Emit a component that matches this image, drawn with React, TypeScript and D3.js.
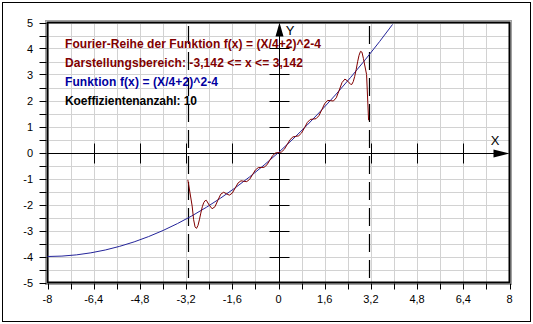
import React from "react";
import * as d3 from "d3";

const xTickValues = [-8, -6.4, -4.8, -3.2, -1.6, 0, 1.6, 3.2, 4.8, 6.4, 8];
const xTickLabels = ["-8", "-6,4", "-4,8", "-3,2", "-1,6", "0", "1,6", "3,2", "4,8", "6,4", "8"];
const yTickValues = [-5, -4, -3, -2, -1, 0, 1, 2, 3, 4, 5];
const yTickLabels = ["-5", "-4", "-3", "-2", "-1", "0", "1", "2", "3", "4", "5"];
const axisTicksX = [-6.4, -4.8, -3.2, -1.6, 1.6, 3.2, 4.8, 6.4];
const axisTicksY = [-4, -3, -2, -1, 1, 2, 3, 4];
const intervalBounds = [-3.142, 3.142];

const blueX = [-8, -7.5, -7, -6.5, -6, -5.5, -5, -4.5, -4, -3.5, -3, -2.5, -2, -1.5, -1, -0.5, 0, 0.5, 1, 1.5, 2, 2.5, 3, 3.5, 3.95];
const blueY = [-4, -3.984, -3.938, -3.859, -3.75, -3.609, -3.438, -3.234, -3, -2.734, -2.438, -2.109, -1.75, -1.359, -0.938, -0.484, 0, 0.516, 1.063, 1.641, 2.25, 2.891, 3.563, 4.266, 4.925];

const redX = [-3.14, -2.99, -2.94, -2.89, -2.84, -2.79, -2.74, -2.69, -2.64, -2.59, -2.54,
  -2.5, -2.4, -2.3, -2.2, -2.1, -2.0, -1.9, -1.8, -1.7, -1.6, -1.5, -1.4, -1.3, -1.2, -1.1, -1.0,
  -0.9, -0.8, -0.7, -0.6, -0.5, -0.4, -0.3, -0.2, -0.1, 0,
  0.1, 0.2, 0.3, 0.4, 0.5, 0.6, 0.7, 0.8, 0.9, 1.0, 1.1, 1.2, 1.3, 1.4, 1.5, 1.6, 1.7, 1.8, 1.9,
  2.0, 2.1, 2.2, 2.3, 2.4, 2.5,
  2.54, 2.59, 2.64, 2.69, 2.74, 2.79, 2.84, 2.89, 2.94, 3.05, 3.12];
const redY = [-1.05, -2.06, -2.58, -2.86, -2.92, -2.81, -2.59, -2.33, -2.09, -1.93, -1.85,
  -1.838, -2.022, -2.163, -2.086, -1.836, -1.603, -1.529, -1.59, -1.641, -1.561, -1.365, -1.172, -1.089, -1.106, -1.119, -1.033,
  -0.852, -0.672, -0.581, -0.576, -0.569, -0.475, -0.295, -0.115, -0.017, 0,
  0.018, 0.12, 0.306, 0.495, 0.6, 0.621, 0.642, 0.752, 0.953, 1.158, 1.271, 1.286, 1.3, 1.417, 1.646, 1.881, 2.002, 1.995, 1.98,
  2.103, 2.387, 2.691, 2.825, 2.742, 2.619,
  2.62, 2.73, 2.93, 3.19, 3.49, 3.74, 3.89, 3.86, 3.62, 3.0, 1.24];

const infoLines = [
  { text: "Fourier-Reihe der Funktion f(x) = (X/4+2)^2-4", color: "#800000", width: 256 },
  { text: "Darstellungsbereich: -3,142 <= x <= 3,142", color: "#800000", width: 238 },
  { text: "Funktion f(x) = (X/4+2)^2-4", color: "#0000a0", width: 153 },
  { text: "Koeffizientenanzahl: 10", color: "#000000", width: 132 },
];

export default function App() {
  const W = 533, H = 324;
  const left = 47.5, right = 509.5, top = 22.5, bottom = 282.5;
  const x = d3.scaleLinear().domain([-8, 8]).range([left, right]);
  const y = d3.scaleLinear().domain([-5, 5]).range([bottom, top]);

  const gridX = d3.range(-8, 8.0001, 0.8);
  const gridY = d3.range(-5, 5.0001, 0.5);

  const line = d3.line<[number, number]>().x(d => x(d[0])).y(d => y(d[1]));
  const bluePts: [number, number][] = blueX.map((v, i) => [v, blueY[i]]);
  const redPts: [number, number][] = redX.map((v, i) => [v, redY[i]]);

  const x0 = Math.round(x(0)) + 0.5;
  const y0 = Math.round(y(0)) + 0.5;
  const font = "'Liberation Sans', Arial, sans-serif";

  return (
    <svg width={W} height={H} style={{ position: "absolute", left: 0, top: 0, background: "#fff" }}>
      <rect x={0} y={0} width={W} height={H} fill="#fff" />
      <rect x={2.5} y={2.5} width={528} height={319} fill="none" stroke="#000" strokeWidth={1} />
      <line x1={3} y1={321.5} x2={531} y2={321.5} stroke="#000" strokeWidth={1} />
      <line x1={530.5} y1={3} x2={530.5} y2={322} stroke="#000" strokeWidth={1} />

      {gridX.map((g, i) => (
        <line key={"gx" + i} x1={Math.round(x(g)) + 0.5} x2={Math.round(x(g)) + 0.5} y1={top} y2={bottom} stroke="#d2d2d2" strokeWidth={1} />
      ))}
      {gridY.map((g, i) => (
        <line key={"gy" + i} y1={Math.round(y(g)) + 0.5} y2={Math.round(y(g)) + 0.5} x1={left} x2={right} stroke="#d2d2d2" strokeWidth={1} />
      ))}

      <rect x={left - 2} y={top - 2} width={right - left + 4} height={bottom - top + 4} fill="none" stroke="#a0a0a0" strokeWidth={1} />
      <rect x={left} y={top} width={right - left} height={bottom - top} fill="none" stroke="#000" strokeWidth={2} />

      {gridX.map((g, i) => (
        <line key={"tx" + i} x1={Math.round(x(g)) + 0.5} x2={Math.round(x(g)) + 0.5} y1={bottom + 1} y2={bottom + 7} stroke="#000" strokeWidth={1} />
      ))}
      {gridY.map((g, i) => (
        <line key={"ty" + i} y1={Math.round(y(g)) + 0.5} y2={Math.round(y(g)) + 0.5} x1={left - 8} x2={left - 1} stroke="#000" strokeWidth={1} />
      ))}
      {xTickValues.map((v, i) => (
        <text key={"xl" + i} x={x(v)} y={303} textAnchor="middle" fontFamily={font} fontSize={11} fill="#000">{xTickLabels[i]}</text>
      ))}
      {yTickValues.map((v, i) => (
        <text key={"yl" + i} x={33} y={y(v) + 4} textAnchor="end" fontFamily={font} fontSize={11} fill="#000">{yTickLabels[i]}</text>
      ))}

      <line x1={left} x2={right - 12} y1={y0} y2={y0} stroke="#000" strokeWidth={1} />
      <line x1={x0} x2={x0} y1={bottom} y2={top + 10} stroke="#000" strokeWidth={1} />
      <path d={`M${right},${y0} L${right - 16},${y0 - 4} L${right - 16},${y0 + 4} Z`} fill="#000" />
      <path d={`M${x0},${top} L${x0 - 4},${top + 14} L${x0 + 4},${top + 14} Z`} fill="#000" />
      <text x={495} y={145} textAnchor="middle" fontFamily={font} fontSize={13} fill="#000">X</text>
      <text x={290} y={35} textAnchor="middle" fontFamily={font} fontSize={13} fill="#000">Y</text>
      {axisTicksX.map((v, i) => (
        <line key={"ax" + i} x1={Math.round(x(v)) + 0.5} x2={Math.round(x(v)) + 0.5} y1={y0 - 10} y2={y0 + 10} stroke="#000" strokeWidth={1} />
      ))}
      {axisTicksY.map((v, i) => (
        <line key={"ay" + i} y1={Math.round(y(v)) + 0.5} y2={Math.round(y(v)) + 0.5} x1={x0 - 10} x2={x0 + 10} stroke="#000" strokeWidth={1} />
      ))}

      {intervalBounds.map((b, i) => (
        <line key={"ib" + i} x1={Math.round(x(b)) + 0.5} x2={Math.round(x(b)) + 0.5} y1={278} y2={24} stroke="#000" strokeWidth={1.2} strokeDasharray="18 8" />
      ))}

      <path d={line(bluePts) || ""} fill="none" stroke="#24249a" strokeWidth={1} />
      <path d={line(redPts) || ""} fill="none" stroke="#800000" strokeWidth={1} />

      {infoLines.map((l, i) => (
        <text key={"t" + i} x={65} y={47.5 + i * 19.2} fontFamily={font} fontSize={12} fontWeight="bold" fill={l.color}
          textLength={l.width} lengthAdjust="spacing">{l.text}</text>
      ))}
    </svg>
  );
}
